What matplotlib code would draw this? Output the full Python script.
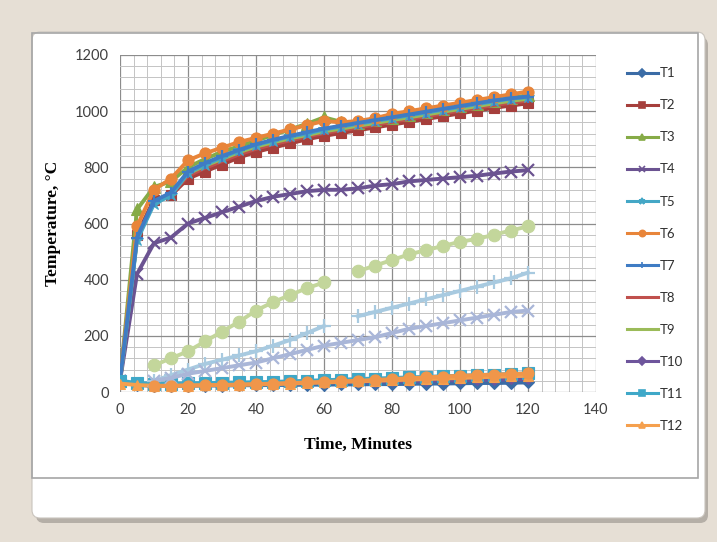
import numpy as np
import matplotlib
matplotlib.use("Agg")
import matplotlib.pyplot as plt
from matplotlib.patches import FancyBboxPatch, Rectangle
from matplotlib.lines import Line2D
from matplotlib.ticker import MultipleLocator

nan = np.nan
time = list(range(0, 125, 5))

# top group
t2 = [40, 560, 685, 700, 760, 785, 810, 835, 855, 870, 885, 900, 912, 922, 932, 942, 952, 962, 972, 982, 992, 1002, 1012, 1020, 1028]
t3 = [40, 650, 730, 750, 800, 830, 855, 875, 895, 915, 935, 955, 978, 962, 957, 967, 977, 987, 997, 1007, 1017, 1027, 1037, 1047, 1057]
t5 = [40, 540, 670, 700, 780, 810, 835, 860, 880, 895, 910, 920, 935, 945, 955, 965, 975, 985, 995, 1005, 1015, 1025, 1035, 1045, 1050]
t6 = [40, 590, 720, 760, 825, 850, 870, 890, 905, 920, 935, 950, 965, 960, 965, 975, 990, 1000, 1010, 1020, 1030, 1040, 1050, 1060, 1070]
t7 = [40, 550, 680, 710, 785, 815, 840, 862, 882, 898, 912, 925, 938, 948, 958, 968, 978, 988, 998, 1008, 1018, 1028, 1038, 1046, 1052]
t8 = [42, 548, 678, 703, 770, 798, 822, 846, 866, 882, 896, 910, 922, 932, 942, 952, 962, 972, 982, 992, 1002, 1012, 1022, 1030, 1038]
t9 = [42, 545, 675, 705, 778, 806, 830, 854, 874, 889, 903, 915, 928, 938, 948, 958, 968, 978, 988, 998, 1008, 1018, 1028, 1037, 1044]
t4 = [40, 420, 530, 550, 600, 620, 640, 660, 680, 695, 705, 715, 720, 720, 725, 735, 740, 750, 755, 760, 765, 770, 778, 785, 790]

# bottom group
t1 = [40, 25, 22, 22, 22, 23, 23, 24, 24, 25, 25, 26, 26, 27, 27, 28, 28, 29, 30, 30, 31, 32, 32, 33, 34]
t10 = [35, 28, 25, 25, 26, 27, 28, 29, 30, 31, 32, 33, 34, 35, 36, 37, 38, 39, 40, 41, 42, 43, 44, 45, 46]
t11 = [40, 32, 30, 30, 31, 32, 33, 34, 35, 36, 38, 40, 42, 44, 46, 48, 50, 52, 54, 56, 58, 60, 62, 64, 66]
t12 = [30, 25, 22, 22, 23, 24, 25, 26, 27, 28, 30, 32, 34, 36, 38, 40, 42, 44, 46, 48, 50, 52, 54, 56, 58]

# series beyond the visible legend
t13 = [nan, nan, 95, 120, 145, 180, 215, 250, 290, 320, 345, 370, 390, nan, 430, 450, 470, 490, 505, 520, 535, 545, 560, 575, 590]
t14 = [nan, nan, 40, 60, 80, 100, 115, 130, 145, 165, 185, 210, 235, nan, 270, 285, 300, 315, 330, 345, 360, 375, 390, 405, 425]
t15 = [nan, nan, 40, 50, 65, 75, 85, 95, 105, 120, 135, 150, 165, 175, 185, 195, 210, 225, 235, 245, 255, 265, 275, 285, 290]
t16 = [nan, nan, 22, 22, 23, 24, 25, 26, 28, 30, 32, 34, 36, 38, 40, 43, 46, 49, 52, 55, 58, 60, 62, 64, 66]

labels = ["T1", "T2", "T3", "T4", "T5", "T6", "T7", "T8", "T9", "T10", "T11", "T12"]

series = [
    (t1, "T1", "#3B6CA6", "D", 6),
    (t2, "T2", "#A63F3C", "s", 7),
    (t3, "T3", "#86AB47", "^", 8),
    (t4, "T4", "#6B5391", "x", 9),
    (t8, "T8", "#C0504D", None, 0),
    (t9, "T9", "#9BBB59", None, 0),
    (t5, "T5", "#44A7C6", "*", 9),
    (t6, "T6", "#E8853A", "o", 8),
    (t7, "T7", "#3F7CC4", "+", 9),
    (t10, "T10", "#6E559C", "D", 5),
    (t11, "T11", "#3FA8C8", "s", 8),
    (t12, "T12", "#F5A04E", "^", 7),
    (t13, "_T13", "#C3D69B", "o", 9),
    (t14, "_T14", "#A8CAE0", "+", 10),
    (t15, "_T15", "#A9B6D8", "x", 9),
    (t16, "_T16", "#F0964A", "o", 8),
]

W, H = 717, 542
fig = plt.figure(figsize=(W / 100, H / 100), dpi=100)
fig.patch.set_facecolor("#E6DFD5")

# slide card background
bg = fig.add_axes([0, 0, 1, 1], zorder=-5)
bg.set_xlim(0, W)
bg.set_ylim(H, 0)
bg.axis("off")
bg.add_patch(FancyBboxPatch((36, 37), 672, 486, boxstyle="round,pad=0,rounding_size=8",
                            fc="#B5AFA7", ec="none"))
bg.add_patch(FancyBboxPatch((32, 32), 673, 486, boxstyle="round,pad=0,rounding_size=8",
                            fc="white", ec="#C9C4BD", lw=0.8))
bg.add_patch(Rectangle((32, 33), 666, 445, fc="none", ec="#A6A6A6", lw=1.2))

ax = fig.add_axes([120 / W, (H - 392) / H, 476 / W, 337 / H])
ax.set_facecolor("white")

for vals, lab, col, mk, ms in series:
    ax.plot(time, vals, color=col, lw=2.8, marker=mk, markersize=ms,
            markeredgewidth=1.6 if mk in ("x", "+") else 0.8, label=lab)

ax.set_xlim(0, 140)
ax.set_ylim(0, 1200)
ax.xaxis.set_major_locator(MultipleLocator(20))
ax.yaxis.set_major_locator(MultipleLocator(200))
ax.xaxis.set_minor_locator(MultipleLocator(4))
ax.yaxis.set_minor_locator(MultipleLocator(40))
ax.grid(which="major", color="#8C8C8C", lw=0.9)
ax.grid(which="minor", color="#C4C4C4", lw=0.7)
ax.set_axisbelow(True)
for s in ax.spines.values():
    s.set_visible(False)
ax.tick_params(which="both", length=0, labelsize=10.5, labelcolor="#404040", pad=8)
for t in ax.get_xticklabels() + ax.get_yticklabels():
    t.set_family("Lato")

ax.set_xlabel("Time, Minutes", family="Liberation Serif", fontweight="bold",
              fontsize=12.5, labelpad=14)
ax.set_ylabel("Temperature, \u00b0C", family="Liberation Serif", fontweight="bold",
              fontsize=12.5, labelpad=10)

style = {lab: (col, mk) for vals, lab, col, mk, ms in series}
handles = []
for lab in labels:
    col, mk = style[lab]
    handles.append(Line2D([], [], color=col, lw=2.2, marker=mk,
                          markersize=4.5, markeredgewidth=1.2))
leg = fig.legend(handles, labels, loc="upper left", bbox_to_anchor=(622 / W, 1 - 62 / H),
                 frameon=False, fontsize=9.5, labelspacing=1.52, handlelength=2.3,
                 handletextpad=0.15, borderaxespad=0)
for t in leg.get_texts():
    t.set_family("Lato")
    t.set_color("#303030")

fig.savefig("out.png", dpi=100, facecolor=fig.get_facecolor())
